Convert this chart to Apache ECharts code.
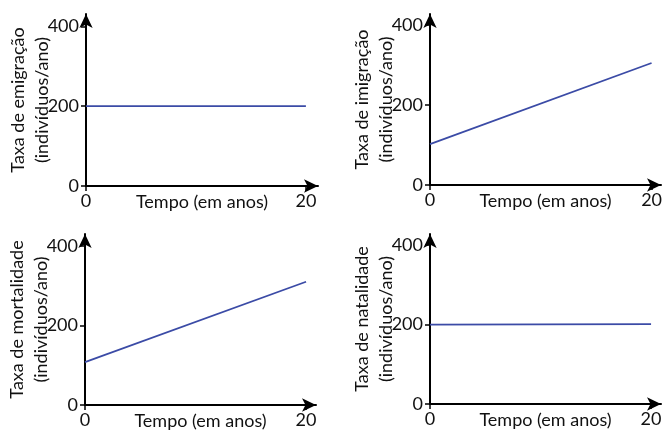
<!DOCTYPE html>
<html>
<head>
<meta charset="utf-8">
<script src="https://cdn.jsdelivr.net/npm/echarts@6/dist/echarts.min.js"></script>
<style>
html,body{margin:0;padding:0;background:#fff;}
#c{width:666px;height:433px;}
</style>
</head>
<body>
<div id="c"></div>
<script>
// ---- data ----
const panelTitles = ["Taxa de emigração", "Taxa de imigração", "Taxa de mortalidade", "Taxa de natalidade"];
const yUnit = "(indivíduos/ano)";
const xTitle = "Tempo (em anos)";
const xTicks = [0, 20];
const yTicks = [0, 200, 400];
const emigracao = [[0, 200], [20, 200]];
const imigracao = [[0, 102], [20, 305]];
const mortalidade = [[0, 108], [20, 310]];
const natalidade = [[0, 200], [20, 201]];
const seriesData = [emigracao, imigracao, mortalidade, natalidade];

// ---- layout ----
const FONT = 'Lato';
const FS = 18;
const grids = [
  {left: 86, top: 14, width: 232, height: 172},
  {left: 430, top: 14, width: 231, height: 171},
  {left: 85, top: 234, width: 231, height: 171},
  {left: 430, top: 234, width: 231, height: 170}
];
const xMax = [21.1, 20.85, 20.9, 20.9];
const yMax = [431, 427.5, 430, 428];

const axisLine = {
  show: true,
  lineStyle: {color: '#000', width: 2},
  symbol: ['none', 'arrow'],
  symbolSize: [10, 14]
};

const option = {
  animation: false,
  backgroundColor: '#fff',
  grid: grids.map(g => Object.assign({containLabel: false}, g)),
  xAxis: grids.map((g, i) => ({
    type: 'value', gridIndex: i, min: 0, max: xMax[i],
    axisLine: axisLine,
    splitLine: {show: false},
    axisTick: {show: true, customValues: xTicks, length: 5, lineStyle: {color: '#000', width: 1.5}},
    axisLabel: {show: true, customValues: xTicks, margin: 6, fontFamily: FONT, fontSize: FS, color: '#111'},
    name: xTitle, nameLocation: 'middle', nameGap: 7, nameMoveOverlap: false,
    nameTextStyle: {fontFamily: FONT, fontSize: FS, color: '#111', verticalAlign: 'top'}
  })),
  yAxis: grids.map((g, i) => ({
    type: 'value', gridIndex: i, min: 0, max: yMax[i],
    axisLine: axisLine,
    splitLine: {show: false},
    axisTick: {show: true, customValues: yTicks, length: 5, lineStyle: {color: '#000', width: 1.5}},
    axisLabel: {show: true, customValues: yTicks, margin: 7, fontFamily: FONT, fontSize: FS, color: '#111'},
    name: panelTitles[i] + '\n' + yUnit, nameLocation: 'middle', nameRotate: 90, nameGap: 32, nameMoveOverlap: false,
    nameTextStyle: {fontFamily: FONT, fontSize: FS, color: '#111', lineHeight: 24}
  })),
  series: seriesData.map((d, i) => ({
    type: 'line', xAxisIndex: i, yAxisIndex: i, data: d,
    showSymbol: false, symbol: 'none',
    lineStyle: {color: '#3b4ba6', width: 1.8}
  }))
};

const chart = echarts.init(document.getElementById('c'), null, {renderer: 'canvas'});
chart.setOption(option);
</script>
</body>
</html>
